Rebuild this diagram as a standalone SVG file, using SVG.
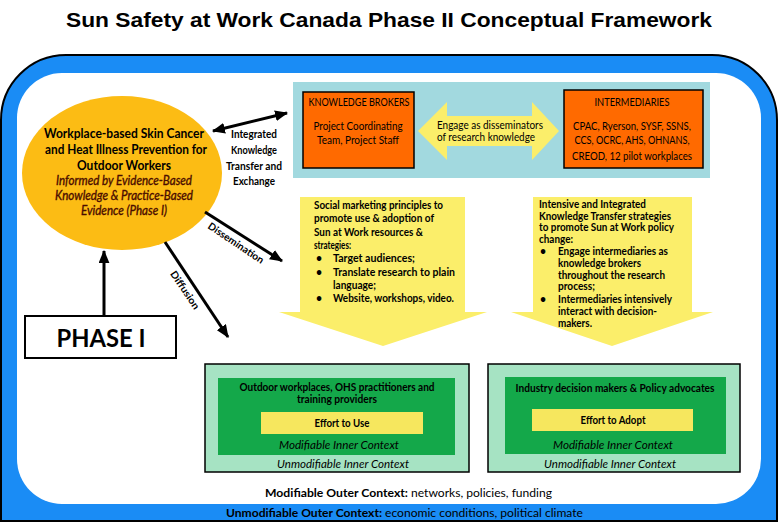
<svg xmlns="http://www.w3.org/2000/svg" width="778" height="523" viewBox="0 0 778 523">
<defs>
<marker id="ah" viewBox="0 0 12 10" refX="11" refY="5" markerWidth="13" markerHeight="11" markerUnits="userSpaceOnUse" orient="auto-start-reverse">
<path d="M0,0 L12,5 L0,10 Z" fill="#000"/>
</marker>
</defs>
<style>
.t{font-family:Lato,"Liberation Sans",sans-serif;fill:#000}
.b{font-weight:bold}
.i{font-style:italic}
.c{text-anchor:middle}
.title{font-family:"Liberation Sans",Arial,sans-serif;font-weight:bold;font-size:21px;text-anchor:middle}
.e{font-size:13px}
.er{fill:#4a0c00;stroke:#4a0c00;stroke-width:0.35px}
.lab{font-size:11px}
.bx{font-size:11px}
.ar{font-size:10.5px}
.inn{font-size:11px}
.ctx{font-size:12px}
.conn{stroke:#000;stroke-width:3;fill:none}
.yel{fill:#FBEE6A}
.org{fill:#FF6A00;stroke:#000;stroke-width:1.5}
.mint{fill:#A6E3C3;stroke:#000;stroke-width:1.5}
.dg{fill:#14A84A}
.eff{fill:#F6E75E}
</style>

<text class="title" x="389" y="27" textLength="646" lengthAdjust="spacingAndGlyphs">Sun Safety at Work Canada Phase II Conceptual Framework</text>

<g id="outer-context">
<path d="M1,521 L1,120 A65,65 0 0 1 66,55 L712,55 A65,65 0 0 1 777,120 L777,521 Z" fill="#1A8CF5" stroke="#000" stroke-width="2"/>
<rect x="17" y="73" width="744" height="431" rx="45" fill="#fff"/>
<text class="t b ctx" x="265" y="497" textLength="143" lengthAdjust="spacingAndGlyphs">Modifiable Outer Context:</text>
<text class="t ctx" x="411" y="497" textLength="141" lengthAdjust="spacingAndGlyphs">networks, policies, funding</text>
<text class="t b ctx" x="226" y="517" textLength="156" lengthAdjust="spacingAndGlyphs">Unmodifiable Outer Context:</text>
<text class="t ctx" x="385" y="517" textLength="198" lengthAdjust="spacingAndGlyphs">economic conditions, political climate</text>
</g>

<g id="prevention">
<ellipse cx="122" cy="173" rx="100" ry="77" fill="#FCBC14"/>
<text class="t b c e" x="124" y="138" textLength="160" lengthAdjust="spacingAndGlyphs">Workplace-based Skin Cancer</text>
<text class="t b c e" x="126" y="154" textLength="162" lengthAdjust="spacingAndGlyphs">and Heat Illness Prevention for</text>
<text class="t b c e" x="124" y="170" textLength="94" lengthAdjust="spacingAndGlyphs">Outdoor Workers</text>
<text class="t i c e er" x="124" y="185" textLength="136" lengthAdjust="spacingAndGlyphs">Informed by Evidence-Based</text>
<text class="t i c e er" x="124" y="200" textLength="138" lengthAdjust="spacingAndGlyphs">Knowledge &amp; Practice-Based</text>
<text class="t i c e er" x="124" y="215" textLength="86" lengthAdjust="spacingAndGlyphs">Evidence (Phase I)</text>
</g>

<g id="phase1">
<rect x="25" y="316" width="151" height="42" fill="#fff" stroke="#000" stroke-width="2"/>
<text class="t b c" x="101" y="347" font-size="24" textLength="89" lengthAdjust="spacingAndGlyphs">PHASE I</text>
</g>

<g id="kt-panel">
<rect x="293" y="82" width="417" height="96" fill="#A2D9DF"/>
</g>

<g id="knowledge-brokers">
<rect class="org" x="303" y="92" width="111" height="76"/>
<text class="t c" x="359" y="106" font-size="10.5" textLength="101" lengthAdjust="spacingAndGlyphs">KNOWLEDGE BROKERS</text>
<text class="t c bx" x="358" y="130" textLength="89" lengthAdjust="spacingAndGlyphs">Project Coordinating</text>
<text class="t c bx" x="358" y="144" textLength="82" lengthAdjust="spacingAndGlyphs">Team, Project Staff</text>
</g>

<g id="engage">
<polygon class="yel" points="418,131 447,102 447,116 532,116 532,102 559,131 532,160 532,146 447,146 447,160"/>
<text class="t bx" x="437" y="129" textLength="106" lengthAdjust="spacingAndGlyphs">Engage as disseminators</text>
<text class="t bx" x="437" y="141" textLength="98" lengthAdjust="spacingAndGlyphs">of research knowledge</text>
</g>

<g id="intermediaries">
<rect class="org" x="564" y="90" width="139" height="78"/>
<text class="t c" x="632" y="106" font-size="10.5" textLength="75" lengthAdjust="spacingAndGlyphs">INTERMEDIARIES</text>
<text class="t c bx" x="632" y="130" textLength="118" lengthAdjust="spacingAndGlyphs">CPAC, Ryerson, SYSF, SSNS,</text>
<text class="t c bx" x="632" y="144" textLength="115" lengthAdjust="spacingAndGlyphs">CCS, OCRC, AHS, OHNANS,</text>
<text class="t c bx" x="632" y="160" textLength="120" lengthAdjust="spacingAndGlyphs">CREOD, 12 pilot workplaces</text>
</g>

<g id="social-marketing">
<polygon class="yel" points="300,197 465,197 465,312 487,312 383,346 279,312 300,312"/>
<text class="t b ar" x="314" y="209" textLength="129" lengthAdjust="spacingAndGlyphs">Social marketing principles to</text>
<text class="t b ar" x="314" y="222" textLength="120" lengthAdjust="spacingAndGlyphs">promote use &amp; adoption of</text>
<text class="t b ar" x="314" y="236" textLength="109" lengthAdjust="spacingAndGlyphs">Sun at Work resources &amp;</text>
<text class="t b ar" x="314" y="249" textLength="37" lengthAdjust="spacingAndGlyphs">strategies:</text>
<text class="t b ar" x="316" y="262">•</text>
<text class="t b ar" x="333" y="262" textLength="82" lengthAdjust="spacingAndGlyphs">Target audiences;</text>
<text class="t b ar" x="316" y="276">•</text>
<text class="t b ar" x="333" y="276" textLength="122" lengthAdjust="spacingAndGlyphs">Translate research to plain</text>
<text class="t b ar" x="333" y="289" textLength="43" lengthAdjust="spacingAndGlyphs">language;</text>
<text class="t b ar" x="316" y="302">•</text>
<text class="t b ar" x="333" y="302" textLength="121" lengthAdjust="spacingAndGlyphs">Website, workshops, video.</text>
</g>

<g id="intensive-kt">
<polygon class="yel" points="533,197 692,197 692,312 713,312 612,346 511,312 533,312"/>
<text class="t b ar" x="539" y="208" textLength="107" lengthAdjust="spacingAndGlyphs">Intensive and Integrated</text>
<text class="t b ar" x="539" y="220" textLength="132" lengthAdjust="spacingAndGlyphs">Knowledge Transfer strategies</text>
<text class="t b ar" x="539" y="231" textLength="135" lengthAdjust="spacingAndGlyphs">to promote Sun at Work policy</text>
<text class="t b ar" x="539" y="243" textLength="34" lengthAdjust="spacingAndGlyphs">change:</text>
<text class="t b ar" x="540" y="255">•</text>
<text class="t b ar" x="558" y="255" textLength="110" lengthAdjust="spacingAndGlyphs">Engage intermediaries as</text>
<text class="t b ar" x="558" y="267" textLength="83" lengthAdjust="spacingAndGlyphs">knowledge brokers</text>
<text class="t b ar" x="558" y="279" textLength="107" lengthAdjust="spacingAndGlyphs">throughout the research</text>
<text class="t b ar" x="558" y="290" textLength="37" lengthAdjust="spacingAndGlyphs">process;</text>
<text class="t b ar" x="540" y="303">•</text>
<text class="t b ar" x="558" y="303" textLength="114" lengthAdjust="spacingAndGlyphs">Intermediaries intensively</text>
<text class="t b ar" x="558" y="315" textLength="99" lengthAdjust="spacingAndGlyphs">interact with decision-</text>
<text class="t b ar" x="558" y="327" textLength="34" lengthAdjust="spacingAndGlyphs">makers.</text>
</g>

<g id="outdoor-workplaces">
<rect class="mint" x="205" y="364" width="264" height="108"/>
<rect class="dg" x="218" y="378" width="237" height="77"/>
<text class="t b c inn" x="337" y="391" textLength="195" lengthAdjust="spacingAndGlyphs">Outdoor workplaces, OHS practitioners and</text>
<text class="t b c inn" x="337" y="403" textLength="80" lengthAdjust="spacingAndGlyphs">training providers</text>
<rect class="eff" x="261" y="412" width="162" height="22"/>
<text class="t b c inn" x="342" y="427" textLength="55" lengthAdjust="spacingAndGlyphs">Effort to Use</text>
<text class="t i c ctx" x="339" y="449" textLength="120" lengthAdjust="spacingAndGlyphs">Modifiable Inner Context</text>
<text class="t i c ctx" x="343" y="468" textLength="132" lengthAdjust="spacingAndGlyphs">Unmodifiable Inner Context</text>
</g>

<g id="industry-decision-makers">
<rect class="mint" x="488" y="364" width="252" height="108"/>
<rect class="dg" x="505" y="377" width="221" height="77"/>
<text class="t b c inn" x="615" y="392" textLength="199" lengthAdjust="spacingAndGlyphs">Industry decision makers &amp; Policy advocates</text>
<rect class="eff" x="532" y="409" width="161" height="22"/>
<text class="t b c inn" x="613" y="424" textLength="65" lengthAdjust="spacingAndGlyphs">Effort to Adopt</text>
<text class="t i c ctx" x="613" y="449" textLength="120" lengthAdjust="spacingAndGlyphs">Modifiable Inner Context</text>
<text class="t i c ctx" x="610" y="468" textLength="132" lengthAdjust="spacingAndGlyphs">Unmodifiable Inner Context</text>
</g>

<g id="connectors">
<line class="conn" x1="213" y1="131" x2="287" y2="113" marker-start="url(#ah)" marker-end="url(#ah)"/>
<line class="conn" x1="205" y1="212" x2="282" y2="261" marker-end="url(#ah)"/>
<line class="conn" x1="165" y1="242" x2="228" y2="337" marker-end="url(#ah)"/>
<line class="conn" x1="104" y1="316" x2="104" y2="251" marker-end="url(#ah)"/>
<text class="t b c lab" x="254" y="138" textLength="46" lengthAdjust="spacingAndGlyphs">Integrated</text>
<text class="t b c lab" x="254" y="154" textLength="46" lengthAdjust="spacingAndGlyphs">Knowledge</text>
<text class="t b c lab" x="254" y="170" textLength="56" lengthAdjust="spacingAndGlyphs">Transfer and</text>
<text class="t b c lab" x="254" y="185" textLength="42" lengthAdjust="spacingAndGlyphs">Exchange</text>
<text class="t b c" font-size="10" transform="translate(236,243) rotate(34)" x="0" y="3.5" textLength="65" lengthAdjust="spacingAndGlyphs">Dissemination</text>
<text class="t b c" font-size="10" transform="translate(185,290) rotate(56)" x="0" y="3.5" textLength="44" lengthAdjust="spacingAndGlyphs">Diffusion</text>
</g>
</svg>
